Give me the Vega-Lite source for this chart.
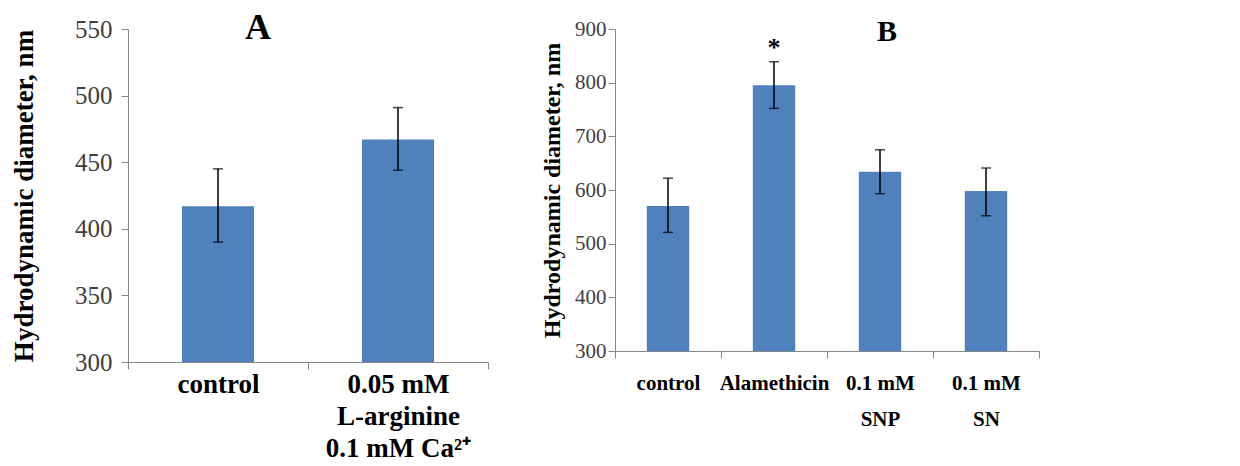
{
  "$schema": "https://vega.github.io/schema/vega-lite/v6.json",
  "background": "white",
  "padding": {"left": 10, "top": 10, "right": 5, "bottom": 0},
  "spacing": 51,
  "config": {
    "view": {"stroke": null},
    "font": "Liberation Serif",
    "axis": {"domainColor": "#868686", "tickColor": "#868686", "grid": false, "labelFont": "Liberation Serif", "titleFont": "Liberation Serif"}
  },
  "datasets": {
    "a": [
      {"group": "control", "mean": 417, "lo": 390, "hi": 445},
      {"group": "0.05 mM|L-arginine|0.1 mM Ca²⁺", "mean": 467, "lo": 444, "hi": 491}
    ],
    "b": [
      {"group": "control", "mean": 570, "lo": 521, "hi": 622, "star": ""},
      {"group": "Alamethicin", "mean": 795, "lo": 752, "hi": 839, "star": "*"},
      {"group": "0.1 mM|SNP", "mean": 634, "lo": 593, "hi": 675, "star": ""},
      {"group": "0.1 mM|SN", "mean": 598, "lo": 552, "hi": 641, "star": ""}
    ]
  },
  "hconcat": [
    {
      "width": 360,
      "height": 333,
      "data": {"name": "a"},
      "title": {"text": "A", "font": "Liberation Serif", "fontSize": 36, "fontWeight": "bold", "color": "black", "offset": -30, "dx": -50},
      "encoding": {
        "x": {"field": "group", "type": "nominal", "sort": null,
          "scale": {"paddingInner": 0, "paddingOuter": 0},
          "axis": {"title": null, "labelAngle": 0, "labelExpr": "split(datum.label, '|')", "labelFontSize": 27, "labelFontWeight": "bold", "labelColor": "black", "labelLineHeight": 32, "tickBand": "extent", "tickSize": 7, "labelPadding": 2, "labelOverlap": false, "labelLimit": 300}
        }
      },
      "layer": [
        {
          "mark": {"type": "bar", "color": "#4f81bd", "width": {"band": 0.4}},
          "encoding": {
            "y": {"field": "mean", "type": "quantitative",
              "scale": {"domain": [300, 550], "nice": false, "zero": false},
              "axis": {"title": "Hydrodynamic diameter, nm", "titleFontSize": 27, "titleFontWeight": "bold", "titleColor": "black", "titlePadding": 36, "values": [300, 350, 400, 450, 500, 550], "labelFontSize": 25, "labelColor": "#404040", "tickSize": 7, "labelPadding": 9}
            },
            "y2": {"datum": 300}
          }
        },
        {
          "mark": {"type": "rule", "color": "black", "strokeWidth": 1.5},
          "encoding": {"y": {"field": "lo", "type": "quantitative"}, "y2": {"field": "hi"}}
        },
        {
          "mark": {"type": "tick", "color": "black", "size": 10, "thickness": 1.5},
          "encoding": {"y": {"field": "lo", "type": "quantitative"}}
        },
        {
          "mark": {"type": "tick", "color": "black", "size": 10, "thickness": 1.5},
          "encoding": {"y": {"field": "hi", "type": "quantitative"}}
        }
      ]
    },
    {
      "width": 424,
      "height": 322,
      "data": {"name": "b"},
      "title": {"text": "B", "font": "Liberation Serif", "fontSize": 30, "fontWeight": "bold", "color": "black", "offset": -29, "dx": 60},
      "encoding": {
        "x": {"field": "group", "type": "nominal", "sort": null,
          "scale": {"paddingInner": 0, "paddingOuter": 0},
          "axis": {"title": null, "labelAngle": 0, "labelExpr": "split(datum.label, '|')", "labelFontSize": 21, "labelFontWeight": "bold", "labelColor": "black", "labelLineHeight": 36, "tickBand": "extent", "tickSize": 7, "labelPadding": 14, "labelOverlap": false, "labelLimit": 300}
        }
      },
      "layer": [
        {
          "mark": {"type": "bar", "color": "#4f81bd", "width": {"band": 0.4}},
          "encoding": {
            "y": {"field": "mean", "type": "quantitative",
              "scale": {"domain": [300, 900], "nice": false, "zero": false},
              "axis": {"title": "Hydrodynamic diameter, nm", "titleFontSize": 24, "titleFontWeight": "bold", "titleColor": "black", "titlePadding": 10, "values": [300, 400, 500, 600, 700, 800, 900], "labelFontSize": 21, "labelColor": "#404040", "tickSize": 7, "labelPadding": 2}
            },
            "y2": {"datum": 300}
          }
        },
        {
          "mark": {"type": "rule", "color": "black", "strokeWidth": 1.5},
          "encoding": {"y": {"field": "lo", "type": "quantitative"}, "y2": {"field": "hi"}}
        },
        {
          "mark": {"type": "tick", "color": "black", "size": 10, "thickness": 1.5},
          "encoding": {"y": {"field": "lo", "type": "quantitative"}}
        },
        {
          "mark": {"type": "tick", "color": "black", "size": 10, "thickness": 1.5},
          "encoding": {"y": {"field": "hi", "type": "quantitative"}}
        },
        {
          "mark": {"type": "text", "font": "Liberation Serif", "fontSize": 26, "fontWeight": "bold", "color": "black", "dy": -14},
          "encoding": {"y": {"field": "hi", "type": "quantitative"}, "text": {"field": "star"}}
        }
      ]
    }
  ]
}
